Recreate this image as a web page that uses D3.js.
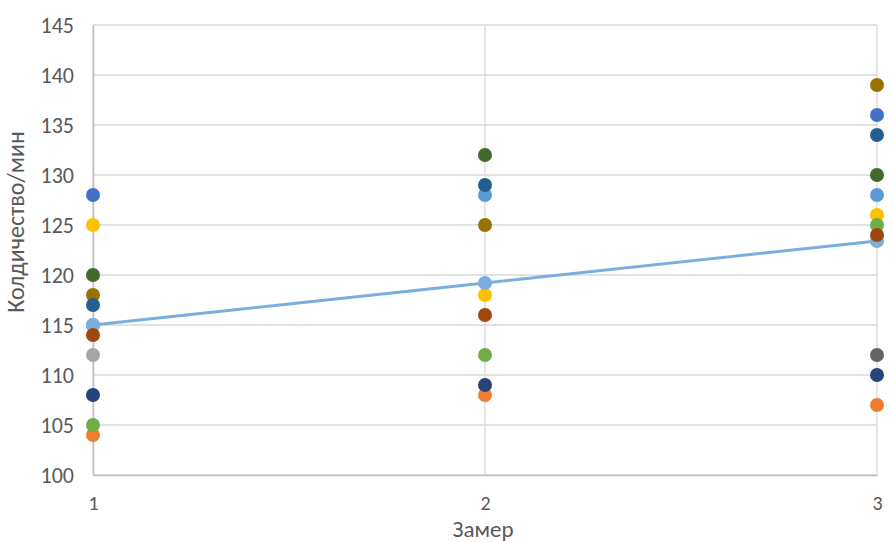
<!DOCTYPE html>
<html>
<head>
<meta charset="utf-8">
<script src="https://cdn.jsdelivr.net/npm/d3@7"></script>
<style>
  html, body { margin: 0; padding: 0; background: #fff; }
  svg { display: block; }
  text { font-family: Carlito, Lato, "Open Sans", sans-serif; fill: #595959; }
</style>
</head>
<body>
<svg id="chart" width="894" height="542"></svg>
<script>
// ---- data ----
const categories = [1, 2, 3];
const yTicks = [100, 105, 110, 115, 120, 125, 130, 135, 140, 145];
const seriesNames = ["s1", "s2", "s3", "s4", "s5", "s6", "s7", "s8", "s9", "s10", "s11", "s12"];
const seriesColors = ["#4472C4", "#ED7D31", "#A5A5A5", "#FFC000", "#5B9BD5", "#70AD47", "#264478", "#9E480E", "#636363", "#997300", "#255E91", "#43682B"];
const s1  = [128, null, 136];
const s2  = [104, 108, 107];
const s3  = [112, null, null];
const s4  = [125, 118, 126];
const s5  = [115, 128, 128];
const s6  = [105, 112, 125];
const s7  = [108, 109, 110];
const s8  = [114, 116, 124];
const s9  = [null, null, 112];
const s10 = [118, 125, 139];
const s11 = [117, 129, 134];
const s12 = [120, 132, 130];
const meanValues = [115, 119.2, 123.4];
const seriesValues = [s1, s2, s3, s4, s5, s6, s7, s8, s9, s10, s11, s12];
const xTitle = "Замер";
const yTitle = "Колдичество/мин";

// ---- layout ----
const svg = d3.select("#chart");
const mLeft = 93, mRight = 877, mTop = 25, mBottom = 475;
const x = d3.scaleLinear().domain([1, 3]).range([mLeft, mRight]);
const y = d3.scaleLinear().domain([100, 145]).range([mBottom, mTop]);

// gridlines
const grid = svg.append("g");
grid.selectAll("line.h").data(yTicks).join("line")
  .attr("x1", mLeft).attr("x2", mRight)
  .attr("y1", d => y(d)).attr("y2", d => y(d))
  .attr("stroke", "#d9d9d9").attr("stroke-width", 1.3);
grid.selectAll("line.v").data(categories).join("line")
  .attr("x1", d => x(d)).attr("x2", d => x(d))
  .attr("y1", mTop).attr("y2", mBottom)
  .attr("stroke", "#d9d9d9").attr("stroke-width", 1.3);

// axes
const yAxis = d3.axisLeft(y).tickValues(yTicks).tickSize(0).tickPadding(19);
const yG = svg.append("g").attr("transform", `translate(${mLeft},0)`).call(yAxis);
yG.select(".domain").attr("stroke", "#bfbfbf").attr("stroke-width", 1.5);
yG.selectAll("text").attr("font-size", 22).style("fill", "#595959");

const xAxis = d3.axisBottom(x).tickValues(categories).tickFormat(d3.format("d")).tickSize(0).tickPadding(21);
const xG = svg.append("g").attr("transform", `translate(0,${mBottom})`).call(xAxis);
xG.select(".domain").attr("stroke", "#bfbfbf").attr("stroke-width", 1.5);
xG.selectAll("text").attr("font-size", 20).style("fill", "#595959");

// titles
svg.append("text").attr("x", (mLeft + mRight) / 2 - 2).attr("y", 537)
  .attr("text-anchor", "middle").attr("font-size", 23).text(xTitle);
svg.append("text").attr("transform", `translate(24,222) rotate(-90)`)
  .attr("text-anchor", "middle").attr("font-size", 24).attr("font-weight", 500).text(yTitle);

// mean line
const line = d3.line().x((d, i) => x(categories[i])).y(d => y(d));
svg.append("path").datum(meanValues).attr("d", line)
  .attr("fill", "none").attr("stroke", "#7BAEDD").attr("stroke-width", 3);

// points
const pts = svg.append("g");
const drawSeries = (vals, color) => {
  pts.append("g").selectAll("circle")
    .data(vals.map((v, i) => ({ v, c: categories[i] })).filter(d => d.v !== null))
    .join("circle")
    .attr("cx", d => x(d.c)).attr("cy", d => y(d.v)).attr("r", 7)
    .attr("fill", color);
};
seriesValues.forEach((vals, i) => {
  if (i === 5) drawSeries(meanValues, "#7BAEDD");
  drawSeries(vals, seriesColors[i]);
});
</script>
</body>
</html>
